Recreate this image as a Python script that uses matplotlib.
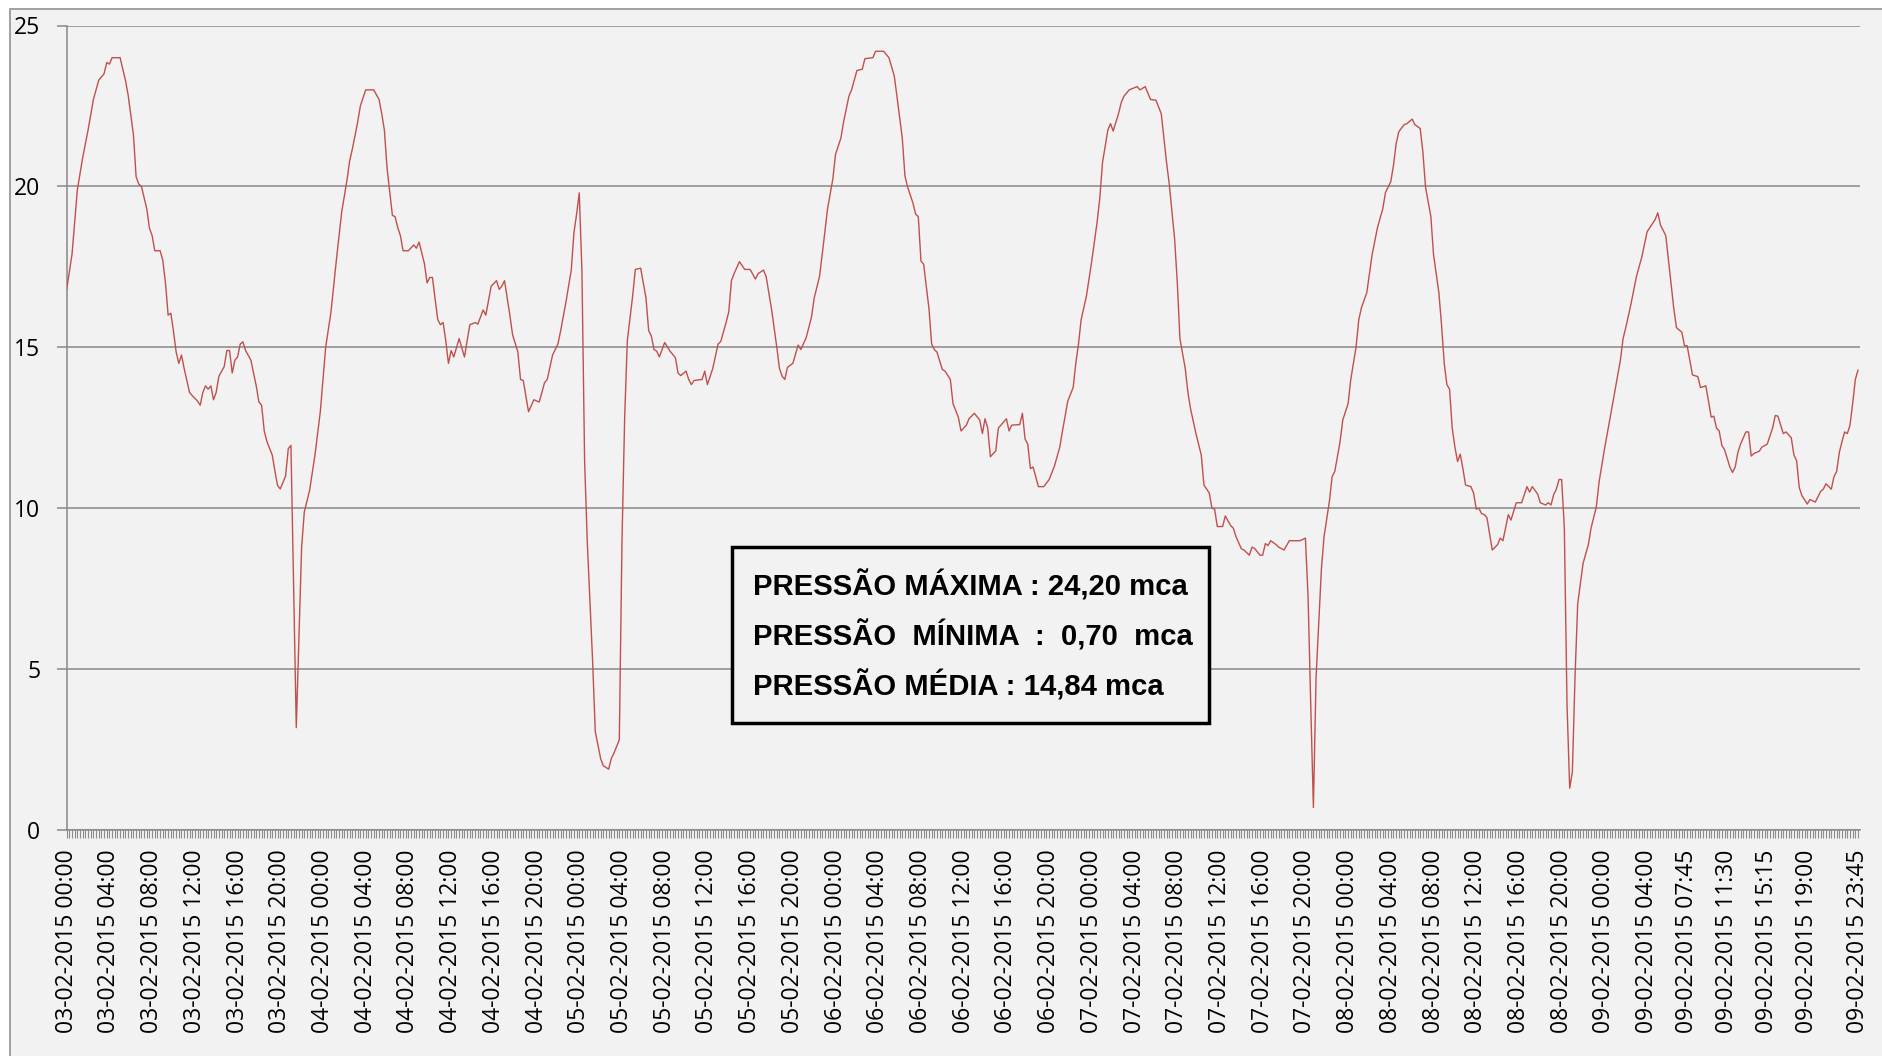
import matplotlib
matplotlib.use("Agg")
import matplotlib.pyplot as plt
import matplotlib.patches as patches
import pandas as pd

# 15-minute readings, 03-02-2015 00:00 is sample 0
sample = [
    0, 2, 4, 6, 8, 10, 12, 14, 15, 16, 17, 20, 22, 23, 25, 26, 27, 28, 30, 31,
    32, 33, 35, 36, 37, 38, 39, 40, 41, 42, 43, 44, 46, 47, 49, 50, 51, 52, 53, 54,
    55, 56, 57, 59, 60, 61, 62, 63, 64, 65, 66, 67, 69, 70, 71, 72, 73, 74, 75, 77,
    78, 79, 80, 82, 83, 84, 86, 88, 89, 91, 93, 95, 97, 99, 101, 103, 105, 106, 107, 109,
    110, 112, 115, 116, 117, 118, 119, 120, 122, 123, 124, 125, 126, 128, 130, 131, 132, 134, 135, 136,
    137, 138, 139, 140, 141, 142, 143, 144, 145, 147, 149, 151, 153, 154, 156, 157, 159, 161, 162, 163,
    164, 166, 167, 169, 170, 171, 173, 175, 177, 179, 180, 182, 184, 185, 187, 189, 190, 191, 192, 193,
    194, 195, 197, 198, 200, 201, 203, 204, 205, 207, 208, 209, 210, 212, 213, 215, 217, 218, 219, 220,
    221, 222, 224, 226, 228, 229, 230, 232, 233, 234, 235, 238, 239, 240, 242, 244, 245, 247, 248, 249,
    250, 252, 254, 256, 258, 259, 261, 262, 264, 266, 267, 268, 269, 270, 272, 274, 275, 277, 279, 280,
    282, 283, 285, 287, 288, 290, 291, 292, 293, 294, 296, 298, 299, 302, 303, 306, 308, 310, 311, 313,
    314, 315, 317, 318, 319, 320, 321, 323, 324, 325, 326, 328, 329, 331, 332, 334, 335, 337, 338, 340,
    342, 343, 344, 345, 346, 348, 349, 352, 353, 354, 357, 358, 359, 360, 361, 362, 364, 366, 368, 370,
    372, 373, 375, 377, 378, 379, 380, 382, 384, 386, 387, 388, 390, 391, 392, 394, 395, 396, 398, 401,
    402, 404, 406, 408, 410, 412, 413, 415, 416, 417, 419, 420, 421, 423, 425, 426, 428, 429, 430, 431,
    433, 434, 436, 437, 438, 440, 441, 443, 444, 445, 447, 448, 449, 450, 451, 453, 454, 456, 458, 462,
    464, 465, 466, 467, 468, 470, 471, 473, 474, 475, 477, 478, 480, 481, 483, 484, 485, 487, 489, 491,
    493, 494, 496, 497, 498, 499, 501, 502, 504, 505, 507, 508, 509, 511, 512, 514, 515, 516, 517, 518,
    519, 520, 521, 522, 523, 524, 526, 527, 528, 529, 530, 531, 532, 533, 534, 536, 537, 538, 540, 541,
    543, 545, 547, 548, 549, 551, 552, 554, 555, 556, 557, 558, 559, 560, 561, 562, 563, 564, 565, 566,
    568, 570, 571, 573, 574, 576, 578, 580, 582, 583, 584, 586, 588, 590, 592, 594, 595, 596, 597, 599,
    600, 602, 603, 605, 606, 607, 609, 611, 612, 614, 615, 616, 617, 618, 619, 620, 621, 623, 624, 625,
    626, 627, 629, 630, 631, 632, 634, 635, 637, 639, 640, 641, 643, 644, 646, 647, 648, 649, 650, 652,
    653, 655, 657, 658, 659, 661, 662, 663, 664, 665, 666, 667, 668, 669, 670, 671,
]
pressure = [
    16.8, 17.9, 19.9, 20.9, 21.75, 22.7, 23.3, 23.5, 23.85, 23.8, 24.0, 24.0, 23.3, 22.85, 21.6, 20.3, 20.07, 20.0, 19.3, 18.7,
    18.47, 18.0, 18.0, 17.7, 17.0, 16.0, 16.06, 15.5, 14.85, 14.5, 14.76, 14.34, 13.6, 13.5, 13.33, 13.2, 13.6, 13.8, 13.7, 13.8,
    13.37, 13.6, 14.1, 14.4, 14.9, 14.9, 14.2, 14.6, 14.7, 15.1, 15.17, 14.9, 14.6, 14.2, 13.8, 13.3, 13.2, 12.4, 12.07, 11.65,
    11.15, 10.7, 10.6, 11.0, 11.85, 11.95, 3.18, 8.79, 9.88, 10.56, 11.65, 13.0, 15.0, 16.1, 17.7, 19.2, 20.2, 20.8, 21.16, 22.0,
    22.5, 23.0, 23.0, 22.85, 22.7, 22.26, 21.75, 20.57, 19.1, 19.06, 18.72, 18.47, 18.0, 18.0, 18.18, 18.08, 18.27, 17.6, 17.0, 17.17,
    17.17, 16.5, 15.86, 15.7, 15.77, 15.2, 14.5, 14.9, 14.7, 15.27, 14.7, 15.7, 15.77, 15.72, 16.16, 16.0, 16.9, 17.07, 16.8, 16.9,
    17.07, 16.0, 15.4, 14.85, 14.0, 13.97, 13.0, 13.37, 13.3, 13.9, 14.0, 14.76, 15.1, 15.5, 16.4, 17.4, 18.55, 19.14, 19.8, 17.37,
    11.48, 8.96, 5.25, 3.06, 2.22, 2.0, 1.89, 2.22, 2.39, 2.8, 8.96, 12.8, 15.2, 16.6, 17.42, 17.46, 16.53, 15.52, 15.35, 14.93,
    14.88, 14.7, 15.15, 14.88, 14.68, 14.2, 14.12, 14.26, 14.0, 13.84, 13.97, 14.0, 14.26, 13.84, 14.34, 15.1, 15.18, 15.77, 16.1, 17.07,
    17.29, 17.66, 17.42, 17.42, 17.12, 17.29, 17.4, 17.2, 16.2, 15.0, 14.34, 14.1, 14.0, 14.38, 14.5, 15.07, 14.93, 15.3, 15.94, 16.53,
    17.2, 17.88, 19.3, 20.24, 21.0, 21.5, 22.0, 22.4, 22.8, 23.0, 23.6, 23.64, 23.97, 24.0, 24.2, 24.2, 24.0, 23.43, 22.8, 21.5,
    20.32, 19.98, 19.48, 19.14, 19.06, 17.68, 17.58, 16.2, 15.1, 14.93, 14.85, 14.31, 14.26, 14.0, 13.25, 12.83, 12.4, 12.58, 12.78, 12.95,
    12.74, 12.32, 12.78, 12.49, 11.6, 11.78, 12.49, 12.78, 12.4, 12.58, 12.6, 12.95, 12.15, 11.99, 11.23, 11.28, 10.67, 10.67, 10.89, 11.31,
    11.9, 12.4, 13.33, 13.75, 14.5, 15.1, 15.86, 16.6, 17.7, 18.9, 19.65, 20.74, 21.75, 21.95, 21.72, 22.26, 22.6, 22.8, 23.0, 23.1,
    23.0, 23.1, 22.7, 22.68, 22.26, 20.74, 20.07, 18.38, 17.04, 15.27, 14.34, 13.59, 13.08, 12.32, 11.65, 10.72, 10.47, 10.0, 9.97, 9.43,
    9.43, 9.76, 9.46, 9.38, 9.12, 8.74, 8.7, 8.54, 8.79, 8.75, 8.54, 8.54, 8.9, 8.84, 8.99, 8.87, 8.79, 8.7, 8.99, 8.99,
    9.07, 7.27, 3.9, 0.70, 4.75, 8.11, 9.12, 10.22, 10.98, 11.14, 12.07, 12.74, 13.25, 14.0, 15.02, 15.86, 16.23, 16.7, 17.88, 18.72,
    19.31, 19.81, 20.15, 20.66, 21.33, 21.7, 21.92, 21.95, 22.09, 21.92, 21.8, 21.08, 19.98, 19.06, 17.88, 16.7, 15.69, 14.51, 13.84, 13.7,
    12.49, 11.9, 11.45, 11.68, 11.23, 10.72, 10.67, 10.47, 9.97, 10.0, 9.83, 9.8, 9.71, 9.21, 8.7, 8.87, 9.07, 8.99, 9.8, 9.63,
    10.17, 10.17, 10.67, 10.5, 10.67, 10.44, 10.17, 10.1, 10.17, 10.1, 10.42, 10.59, 10.89, 10.89, 9.38, 3.9, 1.3, 1.8, 4.75, 7.02,
    8.28, 8.87, 9.38, 10.05, 10.81, 11.82, 12.74, 13.67, 14.6, 15.27, 15.61, 16.36, 17.2, 17.8, 18.59, 18.84, 18.97, 19.18, 18.8, 18.47,
    17.71, 16.2, 15.61, 15.47, 15.05, 15.05, 14.14, 14.09, 13.75, 13.8, 13.33, 12.83, 12.86, 12.49, 12.4, 11.95, 11.82, 11.28, 11.11, 11.28,
    11.73, 11.99, 12.37, 12.37, 11.62, 11.7, 11.77, 11.9, 11.99, 12.49, 12.88, 12.86, 12.32, 12.37, 12.19, 11.65, 11.48, 10.64, 10.39, 10.13,
    10.27, 10.19, 10.52, 10.59, 10.76, 10.59, 10.98, 11.14, 11.73, 12.07, 12.37, 12.32, 12.58, 13.25, 14.0, 14.29,
]

n_samples = 672
start = pd.Timestamp("2015-02-03 00:00")
label_samples = list(range(0, 577, 16)) + [592, 607, 622, 637, 652, 671]
labels = [(start + pd.Timedelta(minutes=15 * k)).strftime("%d-%m-%Y %H:%M") for k in label_samples]

info_lines = [
    "PRESSÃO MÁXIMA : 24,20 mca",
    "PRESSÃO  MÍNIMA  :  0,70  mca",
    "PRESSÃO MÉDIA : 14,84 mca",
]

W, H = 1883, 1056
fig = plt.figure(figsize=(W / 100, H / 100), dpi=100)
fig.patch.set_facecolor("white")

# outer chart frame (Excel chart area)
frame = patches.Rectangle((10 / W, -0.05), 1.05, 1 - 9 / H + 0.05, transform=fig.transFigure,
                          facecolor="#f2f2f2", edgecolor="#9a9a9a", lw=1.3, clip_on=False, zorder=-10)
fig.patches.append(frame)

ax = fig.add_axes([66.7 / W, 1 - 830 / H, (1860 - 66.7) / W, (830 - 25.5) / H])
ax.set_zorder(1)
ax.set_facecolor("#f2f2f2")
ax.plot(sample, pressure, color="#c0504d", lw=1.0, zorder=3)

ax.set_xlim(0, 671.75)
ax.set_ylim(0, 25)
ax.set_yticks([0, 5, 10, 15, 20, 25])
ax.yaxis.grid(True, color="#878787", lw=1.1)
ax.set_axisbelow(True)

ax.set_xticks(label_samples)
ax.set_xticklabels(labels, rotation=90, ha="center", va="top")
ax.set_xticks(range(n_samples), minor=True)

for s in ["top", "right"]:
    ax.spines[s].set_visible(False)
for s in ["left", "bottom"]:
    ax.spines[s].set_color("#878787")
    ax.spines[s].set_linewidth(1.1)

font = "Open Sans"
ax.tick_params(axis="x", which="both", direction="out", length=6, width=0.8, color="#8c8c8c",
               pad=8, labelsize=16.5)
ax.tick_params(axis="y", direction="out", length=7, width=1.1, color="#878787", pad=12, labelsize=16.5)
for lab in ax.get_xticklabels() + ax.get_yticklabels():
    lab.set_fontfamily(font)

# statistics box
box = patches.Rectangle((731.7 / W, 1 - 722.7 / H), (1209 - 731.7) / W, (722.7 - 546.7) / H,
                        transform=fig.transFigure, facecolor="#f2f2f2", edgecolor="black",
                        lw=2.5, zorder=5)
fig.patches.append(box)
for line, base in zip(info_lines, [595, 646, 696]):
    fig.text(752.7 / W, 1 - base / H, line, fontsize=21.1, fontweight="bold",
             family="Liberation Sans", ha="left", va="baseline", zorder=6)

fig.savefig("out.png", dpi=100, facecolor=fig.get_facecolor())
